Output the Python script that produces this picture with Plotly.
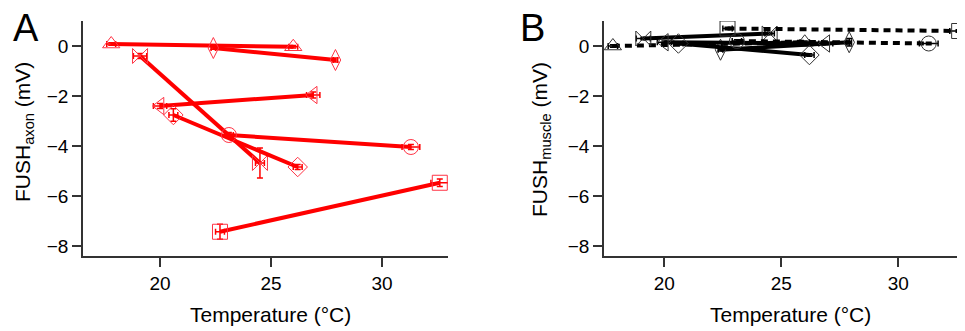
import plotly.graph_objects as go

# ---------------- data ----------------
series_symbols = ["triangle-up-open", "diamond-tall-open", "bowtie-open", "triangle-left-open",
                  "diamond-open", "circle-open", "square-open"]
temp_start = [17.8, 22.4, 19.1, 20.0, 20.6, 23.1, 22.7]
temp_end = [26.0, 27.9, 24.5, 26.9, 26.2, 31.3, 32.6]
temp_err_start = [0.2, 0.1, 0.3, 0.3, 0.2, 0.2, 0.2]
temp_err_end = [0.2, 0.1, 0.2, 0.3, 0.2, 0.4, 0.4]

axon_start = [0.08, -0.08, -0.4, -2.4, -2.76, -3.56, -7.43]
axon_end = [-0.03, -0.56, -4.68, -1.96, -4.84, -4.04, -5.47]
axon_err_start = [0.05, 0.05, 0.1, 0.1, 0.25, 0.1, 0.3]
axon_err_end = [0.05, 0.08, 0.6, 0.12, 0.1, 0.1, 0.15]

muscle_start = [0.0, -0.15, 0.3, 0.15, 0.1, 0.2, 0.7]
muscle_end = [0.15, 0.15, 0.5, 0.1, -0.36, 0.1, 0.6]
muscle_err_start = [0.05, 0.05, 0.05, 0.05, 0.05, 0.05, 0.05]
muscle_err_end = [0.05, 0.15, 0.05, 0.05, 0.05, 0.05, 0.05]
muscle_dash = ["dot", "solid", "solid", "solid", "solid", "dot", "dot"]

x_ticks = [20, 25, 30]
y_ticks = [0, -2, -4, -6, -8]

# page offset (default body margin) compensation
OFF = 8
W, H = 965 - OFF, 331 - OFF
FONT = "Liberation Sans, Arial, sans-serif"

def px(x):
    return (x - OFF) / W

def py(y):
    return 1 - (y - OFF) / H

fig = go.Figure()

RED = "#ff0000"
RED_M = "#ff3344"
for i in range(len(temp_start)):
    fig.add_trace(go.Scatter(
        x=[temp_start[i], temp_end[i]], y=[axon_start[i], axon_end[i]],
        mode="lines+markers",
        line=dict(color=RED, width=4),
        marker=dict(symbol=series_symbols[i], size=15, color=RED_M, line=dict(width=1, color=RED_M)),
        error_x=dict(type="data", array=[temp_err_start[i], temp_err_end[i]], color=RED, thickness=1.5, width=3),
        error_y=dict(type="data", array=[axon_err_start[i], axon_err_end[i]], color=RED, thickness=1.5, width=3),
        xaxis="x", yaxis="y", showlegend=False))

for i in range(len(temp_start)):
    dash = "7px,5px" if muscle_dash[i] == "dot" else "solid"
    fig.add_trace(go.Scatter(
        x=[temp_start[i], temp_end[i]], y=[muscle_start[i], muscle_end[i]],
        mode="lines+markers",
        line=dict(color="black", width=4, dash=dash),
        marker=dict(symbol=series_symbols[i], size=15, color="#333333", line=dict(width=1, color="#333333")),
        error_x=dict(type="data", array=[temp_err_start[i], temp_err_end[i]], color="black", thickness=1.5, width=3),
        error_y=dict(type="data", array=[muscle_err_start[i], muscle_err_end[i]], color="black", thickness=1.5, width=3),
        xaxis="x2", yaxis="y2", showlegend=False))

ydom = [py(256), py(21)]
common_x = dict(tickmode="array", tickvals=x_ticks, ticks="outside", ticklen=9, tickwidth=1.5,
                tickcolor="#333", showline=True, linecolor="#333", linewidth=1.5, showgrid=False,
                zeroline=False, tickfont=dict(family=FONT, size=19, color="black"))
common_y = dict(tickmode="array", tickvals=y_ticks, ticks="outside", ticklen=9, tickwidth=1.5,
                tickcolor="#333", showline=True, linecolor="#333", linewidth=1.5, showgrid=False,
                zeroline=False, tickfont=dict(family=FONT, size=19, color="black"),
                range=[-8.4, 1.0])

fig.update_layout(
    width=W, height=H,
    margin=dict(l=0, r=0, t=0, b=0),
    paper_bgcolor="white", plot_bgcolor="white",
    font=dict(family=FONT, color="black"),
    xaxis=dict(domain=[px(83), px(448)], range=[16.53, 32.97], anchor="y", **common_x),
    yaxis=dict(domain=ydom, anchor="x", **common_y),
    xaxis2=dict(domain=[px(604), 1.0], range=[17.42, 32.85], anchor="y2", **common_x),
    yaxis2=dict(domain=ydom, anchor="x2", **common_y),
)

ann = [
    dict(text="A", x=px(26), y=py(28), font=dict(size=38)),
    dict(text="B", x=px(532), y=py(28), font=dict(size=38)),
    dict(text="Temperature (°C)", x=px(270), y=py(314), font=dict(size=21)),
    dict(text="Temperature (°C)", x=px(790), y=py(314), font=dict(size=21)),
    dict(text="FUSH<sub>axon</sub> (mV)", x=px(24), y=py(132), font=dict(size=21), textangle=-90),
    dict(text="FUSH<sub>muscle</sub> (mV)", x=px(541), y=py(140), font=dict(size=21), textangle=-90),
]
for a in ann:
    fig.add_annotation(xref="paper", yref="paper", showarrow=False,
                       xanchor="center", yanchor="middle",
                       text=a["text"], x=a["x"], y=a["y"],
                       textangle=a.get("textangle", 0),
                       font=dict(family=FONT, color="black", size=a["font"]["size"]))

fig.write_html("out.html")
